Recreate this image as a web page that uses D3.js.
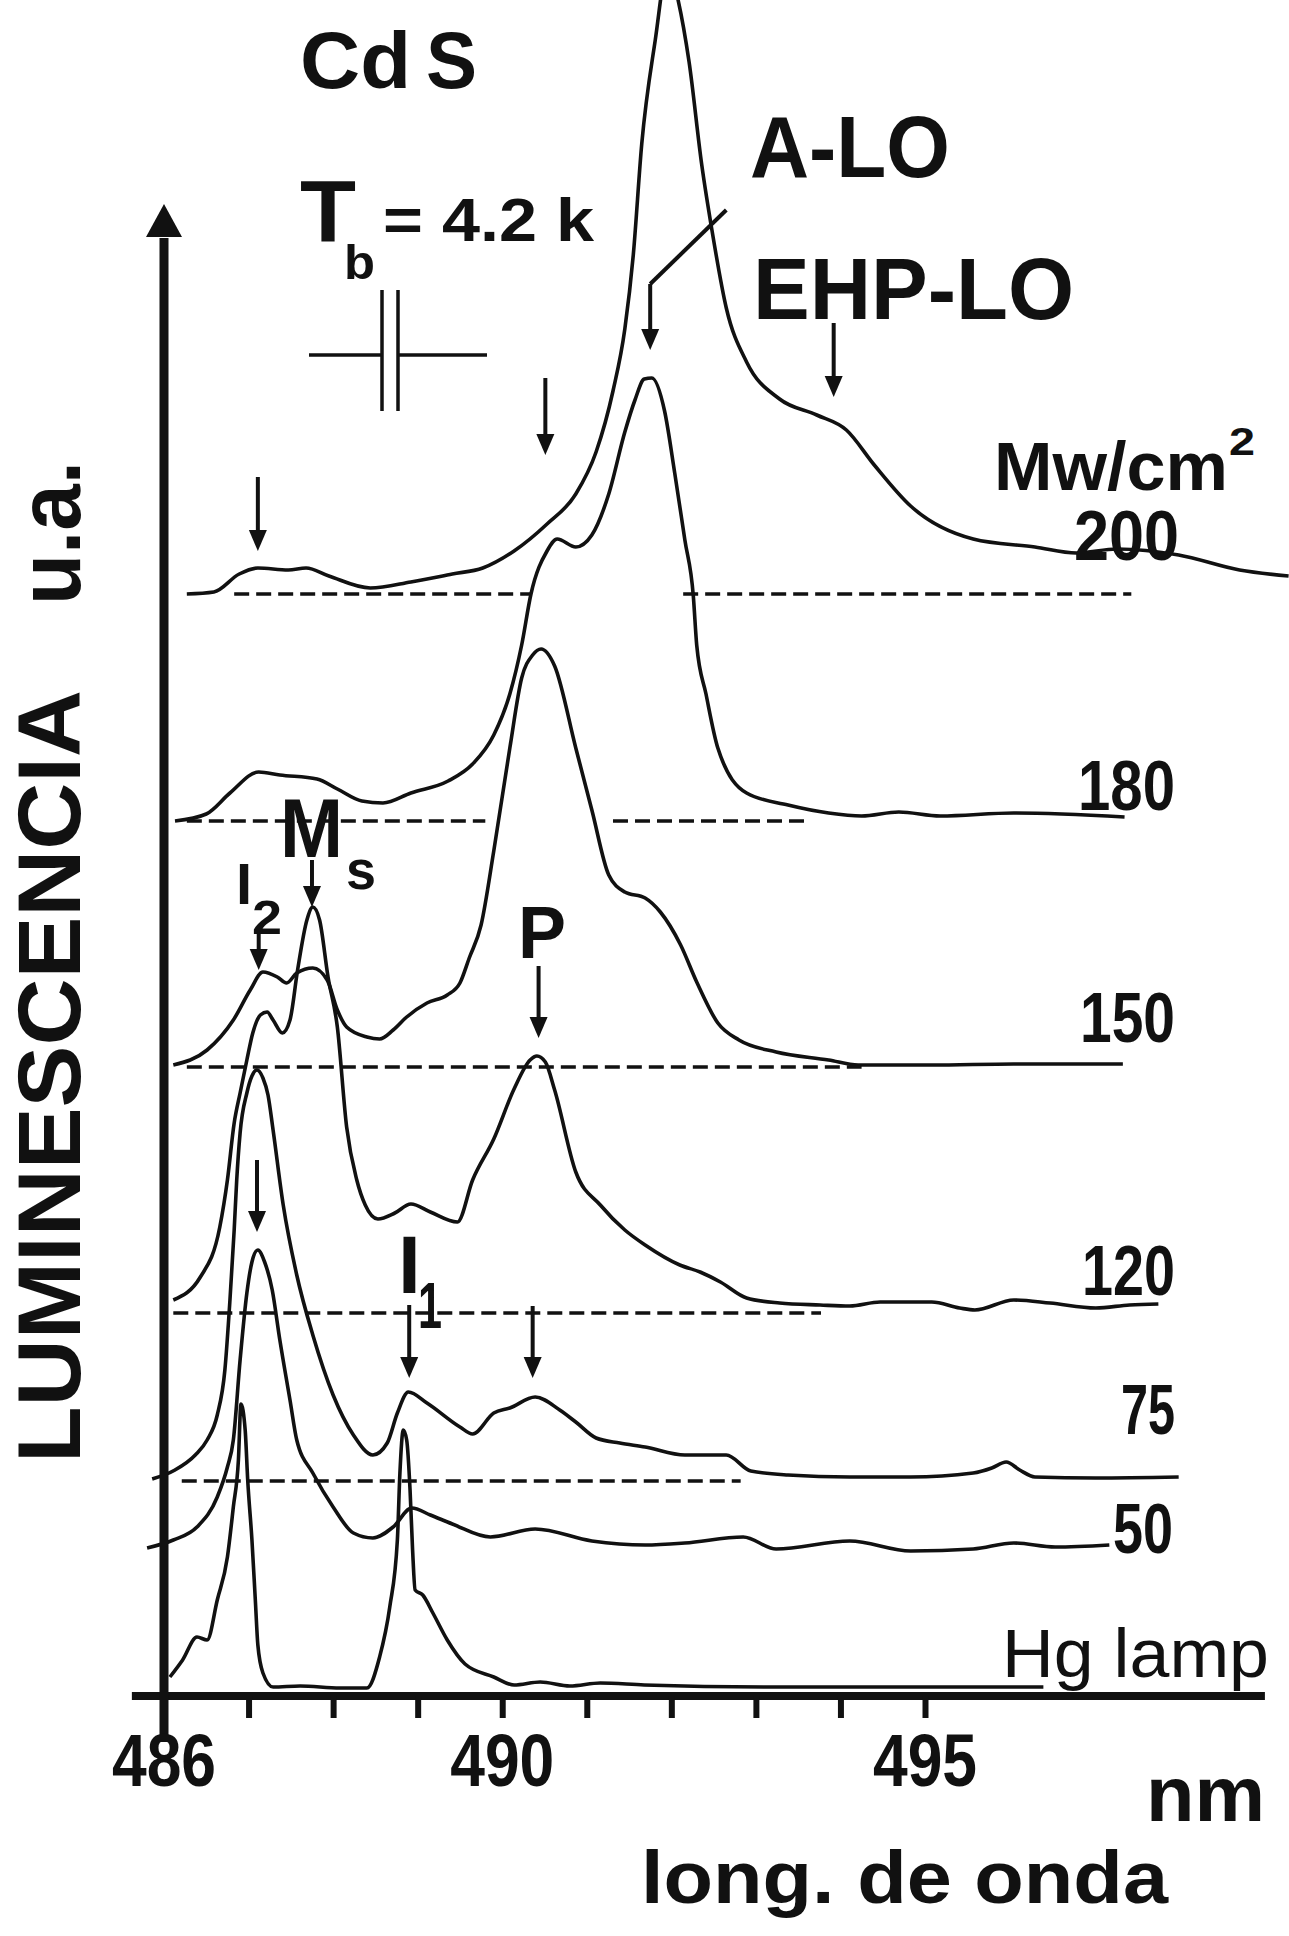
<!DOCTYPE html>
<html>
<head>
<meta charset="utf-8">
<script src="https://cdn.jsdelivr.net/npm/d3@7"></script>
<style>
  body { margin: 0; background: #fff; }
  svg { display: block; }
  text { font-family: "Liberation Sans", Arial, Helvetica, sans-serif; font-weight: bold; fill: #111; }
</style>
</head>
<body>
<svg id="grafica"></svg>
<script>
const svg_w = 1289;
const svg_h = 1936;

// potencia de excitación de cada espectro (MW/cm2), de arriba a abajo
const labels_mw = ["200", "180", "150", "120", "75", "50", "Hg lamp"];
// línea base de cada espectro (u.a. sobre el eje)
const offsets = [110.2, 87.5, 62.9, 38.3, 21.5, 14.8, 0.8];

// espectros: longitud de onda (nm) y luminiscencia sobre su línea base (u.a.)
const wl_200 = [486.27,486.59,486.89,487.11,487.47,487.68,487.95,488.44,488.92,489.41,489.77,490.14,490.53,490.87,491.11,491.31,491.45,491.55,491.65,491.81,491.96,492.08,492.21,492.36,492.48,492.65,492.89,493.28,493.72,494.07,494.40,494.83,495.57,496.30,496.79,497.27,498.00,498.72,499.30];
const lum_200 = [0.0,0.2,2.0,2.6,2.4,2.6,1.8,0.6,1.2,2.0,2.6,4.3,7.0,10.0,14.2,20.3,26.5,33.9,45.0,55.4,62.9,59.4,53.2,42.9,36.4,28.6,23.2,19.5,17.9,16.4,12.9,8.8,5.5,4.7,4.1,4.5,3.9,2.4,1.8];

const wl_180 = [486.13,486.50,486.78,487.12,487.37,487.81,488.05,488.34,488.59,488.92,489.36,489.65,489.90,490.09,490.23,490.34,490.53,490.65,490.87,491.06,491.26,491.45,491.57,491.68,491.77,491.92,492.04,492.16,492.26,492.30,492.41,492.55,492.89,493.38,493.86,494.25,494.69,495.18,496.05,497.36];
const lum_180 = [0,0.7,2.8,4.9,4.6,4.2,3.2,2.0,1.8,2.8,4.0,5.7,8.6,12.7,17.6,22.7,27.0,28.2,27.4,28.6,32.7,38.9,42.1,44.2,44.3,41.0,34.8,28.1,22.5,17.6,12.7,7.3,2.8,1.6,0.8,0.5,0.9,0.5,0.8,0.4];

const wl_150 = [486.11,486.51,486.82,487.02,487.17,487.34,487.45,487.57,487.76,487.93,488.05,488.16,488.40,488.55,488.71,488.87,489.11,489.35,489.50,489.61,489.75,489.90,490.09,490.23,490.36,490.46,490.62,490.87,491.06,491.26,491.45,491.69,491.87,492.11,492.30,492.55,492.80,493.24,493.86,494.21,495.08,496.05,497.34];
const lum_150 = [0.2,1.7,4.7,7.7,9.5,9.0,8.4,9.4,9.9,8.7,5.7,4.0,3.0,2.8,3.7,5.0,6.4,7.2,8.4,10.9,14.2,21.6,31.9,38.9,41.2,41.8,40.1,31.9,25.7,19.2,17.5,16.9,15.5,12.2,8.5,4.4,2.7,1.5,0.7,0.2,0.2,0.3,0.3];

const wl_120 = [486.11,486.43,486.66,486.75,486.83,486.90,486.98,487.05,487.14,487.22,487.29,487.40,487.49,487.58,487.69,487.76,487.84,487.94,488.05,488.16,488.28,488.38,488.53,488.73,488.92,489.15,489.47,489.65,489.90,490.14,490.33,490.41,490.51,490.62,490.87,491.16,491.45,491.69,492.10,492.34,492.58,492.89,493.28,493.76,494.11,494.47,495.08,495.41,495.59,496.05,496.48,497.02,497.42,497.76];
const lum_120 = [1.3,3.6,8.6,13.3,19.0,22.0,25.3,28.0,29.8,30.1,29.3,28.0,29.3,34.3,39.3,40.6,39.3,33.6,28.6,18.6,13.3,10.8,9.4,10.0,10.9,10.1,9.1,13.3,17.4,22.4,25.3,25.7,25.1,22.3,14.1,10.8,8.3,6.8,4.8,4.1,3.1,1.5,1.0,0.8,0.7,1.1,1.1,0.5,0.3,1.3,1.0,0.5,0.8,0.9];

const wl_75 = [485.86,486.13,486.37,486.51,486.63,486.72,486.78,486.83,486.86,486.90,486.98,487.04,487.10,487.17,487.23,487.29,487.41,487.57,487.76,488.00,488.24,488.47,488.64,488.76,488.89,489.11,489.50,489.65,489.90,490.09,490.39,490.68,490.87,491.11,491.39,491.69,492.16,492.65,492.94,493.38,494.11,494.83,495.57,495.79,495.96,496.12,496.30,497.02,498.00];
const lum_75 = [0.2,1.1,2.6,4.1,6.6,11.1,18.1,25.1,30.1,34.8,38.8,40.5,41.1,40.3,38.6,35.1,27.6,20.6,14.6,8.6,4.6,2.6,3.8,6.8,8.9,7.8,5.4,4.7,6.8,7.3,8.4,7.1,5.9,4.3,3.8,3.4,2.6,2.6,1.0,0.6,0.4,0.4,0.8,1.3,1.9,1.1,0.4,0.3,0.4];

const wl_50 = [485.80,486.11,486.39,486.63,486.75,486.82,486.90,486.98,487.04,487.11,487.19,487.28,487.37,487.49,487.57,487.76,488.00,488.24,488.47,488.71,488.93,489.15,489.41,489.86,490.39,491.06,491.69,492.16,492.85,493.24,494.11,494.83,495.57,496.05,496.54,497.18];
const lum_50 = [0.0,0.8,2.1,5.1,8.1,10.8,18.8,25.5,28.6,29.8,28.6,25.8,20.8,14.8,10.8,7.5,4.1,1.5,1.0,2.1,4.0,3.3,2.4,1.1,1.9,0.7,0.3,0.5,1.1,-0.1,0.7,-0.3,-0.1,0.5,0.1,0.3];

const wl_hg = [486.07,486.22,486.39,486.51,486.63,486.75,486.82,486.88,486.91,486.96,486.99,487.04,487.08,487.11,487.17,487.29,487.61,488.08,488.40,488.55,488.67,488.76,488.79,488.83,488.87,488.91,488.94,488.97,489.06,489.18,489.35,489.56,489.90,490.14,490.45,490.80,491.16,491.68,493.13,496.40];
const lum_hg = [1.1,2.8,5.1,4.8,8.8,13.1,18.1,22.8,28.4,25.8,20.8,14.8,8.8,4.3,1.5,0.1,0.2,0,0,3.1,8.1,14.8,21.5,25.8,24.8,19.8,13.8,9.8,9.3,7.5,4.8,2.4,1.1,0.3,0.6,0.2,0.5,0.3,0.1,0.1];

// tramos de línea base discontinua: índice del espectro, desde, hasta (nm)
const seg_curve = [0, 0, 1, 1, 2, 3, 4];
const seg_from  = [486.83, 492.14, 486.27, 491.31, 486.27, 486.11, 486.21];
const seg_to    = [490.33, 497.44, 489.80, 493.62, 494.25, 493.77, 492.82];

// flechas que marcan los picos: nm, inicio y punta (u.a.)
const arrow_wl  = [487.11, 490.51, 491.75, 493.92, 487.75, 487.12, 490.43, 487.10, 488.90, 490.36];
const arrow_top = [121.9, 131.8, 141.2, 137.3, 83.6, 76.3, 73.0, 53.6, 39.1, 39.0];
const arrow_tip = [114.5, 124.1, 134.6, 129.9, 78.9, 72.6, 65.8, 46.4, 31.8, 31.8];

const tick_values = [487, 488, 489, 490, 491, 492, 493, 494, 495];
const tick_labels = [486, 490, 495];

const series = [
  {wl: wl_200, lum: lum_200}, {wl: wl_180, lum: lum_180}, {wl: wl_150, lum: lum_150},
  {wl: wl_120, lum: lum_120}, {wl: wl_75, lum: lum_75}, {wl: wl_50, lum: lum_50},
  {wl: wl_hg, lum: lum_hg}
].map((s, i) => ({label: labels_mw[i], off: offsets[i], pts: s.wl.map((w, j) => [w, s.lum[j]])}));

const svg = d3.select("#grafica")
  .attr("width", svg_w)
  .attr("height", svg_h)
  .attr("viewBox", `0 0 ${svg_w} ${svg_h}`);

svg.append("rect").attr("width", svg_w).attr("height", svg_h).attr("fill", "#fff");

const x = d3.scaleLinear().domain([486, 495]).range([164, 925]);
const y = d3.scaleLinear().domain([0, 170]).range([1696, -4]);

// espectros
const line = d3.line().curve(d3.curveMonotoneX);
svg.append("g")
  .selectAll("path")
  .data(series)
  .enter()
  .append("path")
  .attr("d", s => line(s.pts.map(p => [x(p[0]), y(p[1] + s.off)])))
  .attr("fill", "none")
  .attr("stroke", "#111")
  .attr("stroke-width", 3.6)
  .attr("stroke-linejoin", "round");

// líneas base discontinuas
svg.append("g")
  .selectAll("line")
  .data(seg_curve)
  .enter()
  .append("line")
  .attr("x1", (d, i) => x(seg_from[i]))
  .attr("x2", (d, i) => x(seg_to[i]))
  .attr("y1", d => y(offsets[d]))
  .attr("y2", d => y(offsets[d]))
  .attr("stroke", "#111")
  .attr("stroke-width", 3.4)
  .attr("stroke-dasharray", "15 7");

// flechas
const arrows = svg.append("g");
arrow_wl.forEach((w, i) => {
  const ax = x(w), y0 = y(arrow_top[i]), y1 = y(arrow_tip[i]);
  arrows.append("line")
    .attr("x1", ax).attr("x2", ax).attr("y1", y0).attr("y2", y1 - 16)
    .attr("stroke", "#111").attr("stroke-width", 4);
  arrows.append("path")
    .attr("d", `M${ax - 9},${y1 - 21} L${ax + 9},${y1 - 21} L${ax},${y1} Z`)
    .attr("fill", "#111");
});
// trazo que une A-LO con su flecha
arrows.append("line")
  .attr("x1", x(arrow_wl[2])).attr("y1", y(arrow_top[2]))
  .attr("x2", x(492.65)).attr("y2", y(148.6))
  .attr("stroke", "#111").attr("stroke-width", 4);

// ejes
svg.append("line")
  .attr("x1", x(485.62)).attr("x2", x(499.02))
  .attr("y1", y(0)).attr("y2", y(0))
  .attr("stroke", "#111").attr("stroke-width", 8);

svg.append("g")
  .attr("transform", `translate(0,${y(0)})`)
  .call(d3.axisBottom(x).tickValues(tick_values).tickSize(22).tickFormat(""))
  .call(g => g.select(".domain").remove())
  .call(g => g.selectAll(".tick line").attr("stroke", "#111").attr("stroke-width", 6));

svg.append("line")
  .attr("x1", x(486)).attr("x2", x(486))
  .attr("y1", y(-4.6)).attr("y2", y(145.8))
  .attr("stroke", "#111").attr("stroke-width", 9);
svg.append("path")
  .attr("d", `M${x(486) - 18},${y(145.9)} L${x(486) + 18},${y(145.9)} L${x(486)},${y(149.2)} Z`)
  .attr("fill", "#111");

svg.append("g")
  .selectAll("text")
  .data(tick_labels)
  .enter()
  .append("text")
  .attr("x", d => x(d))
  .attr("y", 1786)
  .attr("text-anchor", "middle")
  .attr("font-size", 74)
  .attr("textLength", 104)
  .attr("lengthAdjust", "spacingAndGlyphs")
  .text(d => d);

// textos
function label(txt, px, py, size, len, weight) {
  const t = svg.append("text")
    .attr("x", px).attr("y", py)
    .attr("font-size", size)
    .text(txt);
  if (len) t.attr("textLength", len).attr("lengthAdjust", "spacingAndGlyphs");
  if (weight) t.style("font-weight", weight);
  return t;
}

label("Cd", 300, 88, 80, 111);
label("S", 426, 88, 80, 51);
label("T", 300, 241, 88, 56);
label("b", 344, 279, 48, 31);
label("= 4.2 k", 383, 241, 62, 211);
label("A-LO", 750, 177, 88, 200);
label("EHP-LO", 753, 319, 88, 321);
label("Mw/cm", 994, 490, 68, 234);
label("2", 1229, 455, 38, 26);

const label_pos = [[1074, 560, 105], [1078, 810, 97], [1080, 1042, 95], [1082, 1295, 93], [1121, 1434, 54], [1113, 1553, 60]];
label_pos.forEach((p, i) => label(labels_mw[i], p[0], p[1], 70, p[2]));
label(labels_mw[6], 1002, 1677, 68, 267, "normal");

label("M", 280, 857, 84, 63);
label("s", 346, 889, 56, 30);
label("I", 236, 904, 58);
label("2", 252, 934, 48, 30);
label("P", 518, 958, 75, 48);
label("I", 398, 1293, 82);
label("1", 418, 1328, 64, 24);

label("nm", 1146, 1821, 78, 119);
label("long.  de onda", 641, 1903, 75, 527);

svg.append("text")
  .attr("transform", "translate(80,1463) rotate(-90)")
  .attr("font-size", 89)
  .attr("textLength", 773)
  .attr("lengthAdjust", "spacingAndGlyphs")
  .text("LUMINESCENCIA");
svg.append("text")
  .attr("transform", "translate(80,605) rotate(-90)")
  .attr("font-size", 89)
  .attr("textLength", 144)
  .attr("lengthAdjust", "spacingAndGlyphs")
  .text("u.a.");

// símbolo del condensador (montaje de excitación)
const cap = svg.append("g").attr("stroke", "#111").attr("stroke-width", 3.5);
cap.append("line").attr("x1", 309).attr("x2", 382).attr("y1", 355).attr("y2", 355);
cap.append("line").attr("x1", 398).attr("x2", 487).attr("y1", 355).attr("y2", 355);
cap.append("line").attr("x1", 382).attr("x2", 382).attr("y1", 290).attr("y2", 411);
cap.append("line").attr("x1", 398).attr("x2", 398).attr("y1", 290).attr("y2", 411);
</script>
</body>
</html>
